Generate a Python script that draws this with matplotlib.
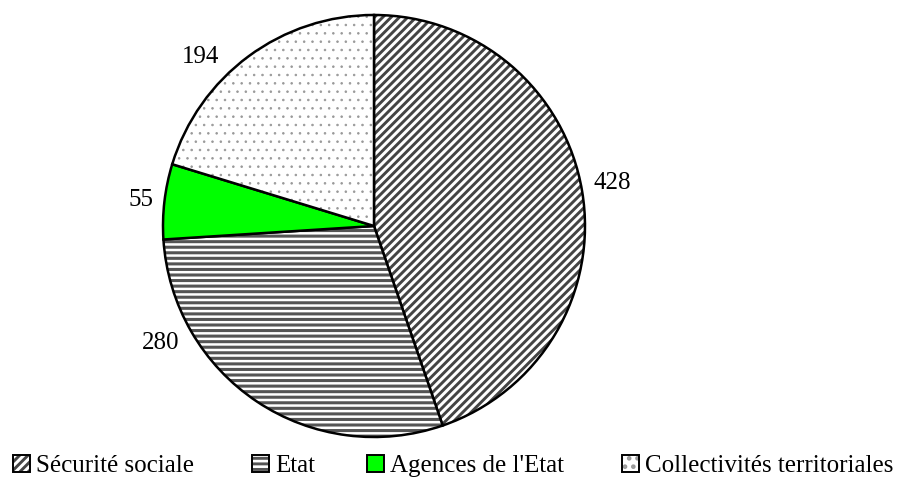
import matplotlib
matplotlib.use("Agg")
import matplotlib.pyplot as plt
from matplotlib.colors import to_rgba

categories = ["Sécurité sociale", "Etat", "Agences de l'Etat", "Collectivités territoriales"]
values = [428, 280, 55, 194]
colors = ["white", "white", "#00ff00", "white"]
hatches = ["////", "---", "", ".."]
hatch_colors = ["#444444", "#555555", "black", "#999999"]
hatch_widths = [2.1, 2.2, 1.0, 0.6]
# positions des étiquettes (unités du rayon), placées comme dans Excel
label_pos = [(1.130, 0.204), (-1.009, -0.555), (-1.104, 0.123), (-0.820, 0.801)]
# bord gauche de chaque entrée de légende (fraction de la largeur)
legend_x = [0.0143, 0.2763, 0.4024, 0.682]

plt.rcParams["font.family"] = ["Liberation Serif", "DejaVu Serif"]
plt.rcParams["hatch.linewidth"] = 2.1

fig = plt.figure(figsize=(9.12, 4.79), dpi=100)
ax = fig.add_axes([0, 0, 1, 1])

wedges, _ = ax.pie(values, colors=colors, startangle=90, counterclock=False,
                   wedgeprops=dict(edgecolor="black", linewidth=1.8))
for w, h, hc, hw in zip(wedges, hatches, hatch_colors, hatch_widths):
    w.set_hatch(h)
    w._hatch_color = to_rgba(hc)
    if hasattr(w, "set_hatch_linewidth"):
        w.set_hatch_linewidth(hw)
    else:
        w._hatch_linewidth = hw

for v, (x, y) in zip(values, label_pos):
    ax.text(x, y, str(v), fontsize=18, ha="center", va="center")

ax.set_aspect("auto")
ax.set_xlim(-1.7725, 2.5498)
ax.set_ylim(-1.199, 1.071)
ax.axis("off")

# une légende par entrée, comme l'espacement irrégulier d'Excel
for w, cat, lx in zip(wedges, categories, legend_x):
    leg = fig.legend([w], [cat], loc="center left", frameon=False, fontsize=18,
                     bbox_to_anchor=(lx, 0.027), handlelength=0.68,
                     handleheight=0.68, handletextpad=0.24, borderpad=0,
                     borderaxespad=0)
    for p in leg.get_patches():
        p.set_linewidth(1.4)

fig.savefig("out.png", dpi=100)
